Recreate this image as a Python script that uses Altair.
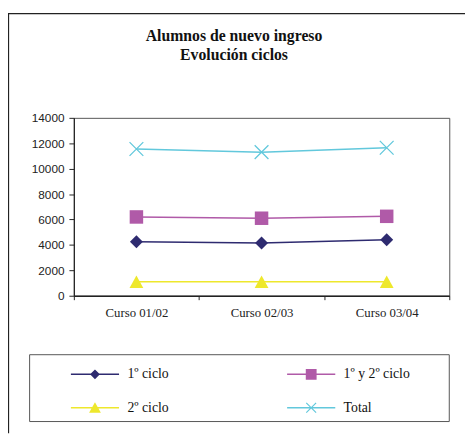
import altair as alt
import pandas as pd

# ---- data ----
title_lines = ["Alumnos de nuevo ingreso", "Evolución ciclos"]
cursos = ["Curso 01/02", "Curso 02/03", "Curso 03/04"]
series_names = ["1º ciclo", "1º y 2º ciclo", "2º ciclo", "Total"]
ciclo1 = [4250, 4150, 4400]
ciclo12 = [6200, 6100, 6250]
ciclo2 = [1100, 1100, 1100]
total = [11550, 11300, 11650]
colors = ["#2E2B70", "#B05AA8", "#EEE82C", "#62C8DC"]
y_ticks = [0, 2000, 4000, 6000, 8000, 10000, 12000, 14000]
# legend fills its grid column by column: this order shows it row by row
legend_order = ["1º ciclo", "2º ciclo", "1º y 2º ciclo", "Total"]

rows = []
for name, vals in zip(series_names, [ciclo1, ciclo12, ciclo2, total]):
    for c, v in zip(cursos, vals):
        rows.append({"curso": c, "serie": name, "valor": v})
df = pd.DataFrame(rows)


# ---- symbol paths (unit square -1..1) ----
def f(v):
    return f"{v:.3f}"


def x_path(a, o):
    r1 = f"M{f(-a+o)},{f(-a-o)}L{f(a+o)},{f(a-o)}L{f(a-o)},{f(a+o)}L{f(-a-o)},{f(-a+o)}Z"
    r2 = f"M{f(-a+o)},{f(a+o)}L{f(-a-o)},{f(a-o)}L{f(a-o)},{f(-a-o)}L{f(a+o)},{f(-a+o)}Z"
    return r1 + r2


def diamond(h):
    return f"M{f(-h)},0L0,{f(-h)}L{f(h)},0L0,{f(h)}Z"


def square(h):
    return f"M{f(-h)},{f(-h)}H{f(h)}V{f(h)}H{f(-h)}Z"


def triangle(w, top, bot):
    return f"M0,{f(-top)}L{f(w)},{f(bot)}L{f(-w)},{f(bot)}Z"


plot_shapes = [diamond(0.94), square(0.98), triangle(1.0, 0.9, 0.9), x_path(1.0, 0.066)]
line_seg = "M-4.083,-0.125H4.083V0.125H-4.083Z"
legend_shape_by_name = {
    "1º ciclo": line_seg + diamond(0.833),
    "1º y 2º ciclo": line_seg + square(0.917),
    "2º ciclo": line_seg + triangle(1.0, 0.95, 0.85),
    "Total": line_seg + x_path(0.833, 0.0707),
}
color_by_name = dict(zip(series_names, colors))
legend_colors = [color_by_name[n] for n in legend_order]
legend_shapes = [legend_shape_by_name[n] for n in legend_order]

serif = "Liberation Serif, Times New Roman, serif"

x_enc = alt.X(
    "curso:N",
    sort=cursos,
    scale=alt.Scale(paddingInner=0, paddingOuter=0),
    axis=alt.Axis(
        title=None, labelAngle=0, tickBand="extent", tickSize=4, labelPadding=7,
        labelFont=serif, labelFontSize=13, labelColor="#222",
        domainColor="#222", tickColor="#222", domainWidth=1.5,
    ),
)
y_enc = alt.Y(
    "valor:Q",
    scale=alt.Scale(domain=[0, 14000], nice=False),
    axis=alt.Axis(
        title=None, values=y_ticks, format="d", grid=False, tickSize=5, labelPadding=5,
        labelFont="Liberation Sans", labelFontSize=12, labelColor="#222",
        domainColor="#222", tickColor="#222", domainWidth=1.2,
    ),
)

base = alt.Chart(df)

lines = base.mark_line(strokeWidth=1.5).encode(
    x=x_enc, y=y_enc,
    stroke=alt.Stroke("serie:N", scale=alt.Scale(domain=series_names, range=colors), legend=None),
)

points = base.mark_point(filled=True, size=196, opacity=1, strokeWidth=0).encode(
    x=x_enc, y=y_enc,
    fill=alt.Fill("serie:N", scale=alt.Scale(domain=series_names, range=colors), legend=None),
    shape=alt.Shape("serie:N", scale=alt.Scale(domain=series_names, range=plot_shapes), legend=None),
)

leg = alt.Legend(
    title=None, orient="none", legendX=-3, legendY=254, columns=2,
    columnPadding=120, rowPadding=20, symbolSize=144, symbolStrokeWidth=0,
    symbolOpacity=1, symbolOffset=17.5, labelOffset=26,
    labelFont=serif, labelFontSize=14, labelColor="#111", padding=0,
)

legend_layer = base.mark_point(filled=True, size=144, opacity=0).encode(
    x=x_enc, y=y_enc,
    color=alt.Color("serie:N", scale=alt.Scale(domain=legend_order, range=legend_colors), legend=leg),
    shape=alt.Shape("serie:N", scale=alt.Scale(domain=legend_order, range=legend_shapes), legend=leg),
)

deco_data = alt.Chart(pd.DataFrame({"k": [0]}))
top_rule = deco_data.mark_rule(color="#222", strokeWidth=1.3).encode(
    x=alt.value(-67), x2=alt.value(398), y=alt.value(-106)
)
left_rule = deco_data.mark_rule(color="#222", strokeWidth=1.3).encode(
    x=alt.value(-66.5), y=alt.value(-106), y2=alt.value(321)
)
legend_box = deco_data.mark_rect(fillOpacity=0, stroke="#555", strokeWidth=1).encode(
    x=alt.value(-45), x2=alt.value(382), y=alt.value(241), y2=alt.value(309)
)
title_style = dict(font=serif, fontSize=16, fontWeight="bold", color="#111",
                   align="center", baseline="alphabetic")
title1 = deco_data.mark_text(**title_style).encode(
    x=alt.value(163), y=alt.value(-78), text=alt.value(title_lines[0])
)
title2 = deco_data.mark_text(**title_style).encode(
    x=alt.value(163), y=alt.value(-58.5), text=alt.value(title_lines[1])
)

chart = (
    alt.layer(top_rule, left_rule, legend_box, title1, title2, lines, points, legend_layer)
    .resolve_scale(shape="independent", color="independent")
    .properties(
        width=382,
        height=181,
        autosize=alt.AutoSizeParams(type="none"),
        padding={"left": 67, "top": 108, "right": 16, "bottom": 142},
        background="white",
    )
    .configure_view(stroke="#555", strokeWidth=1)
)

chart.save("out.html", embed_options={"renderer": "svg", "actions": False})
